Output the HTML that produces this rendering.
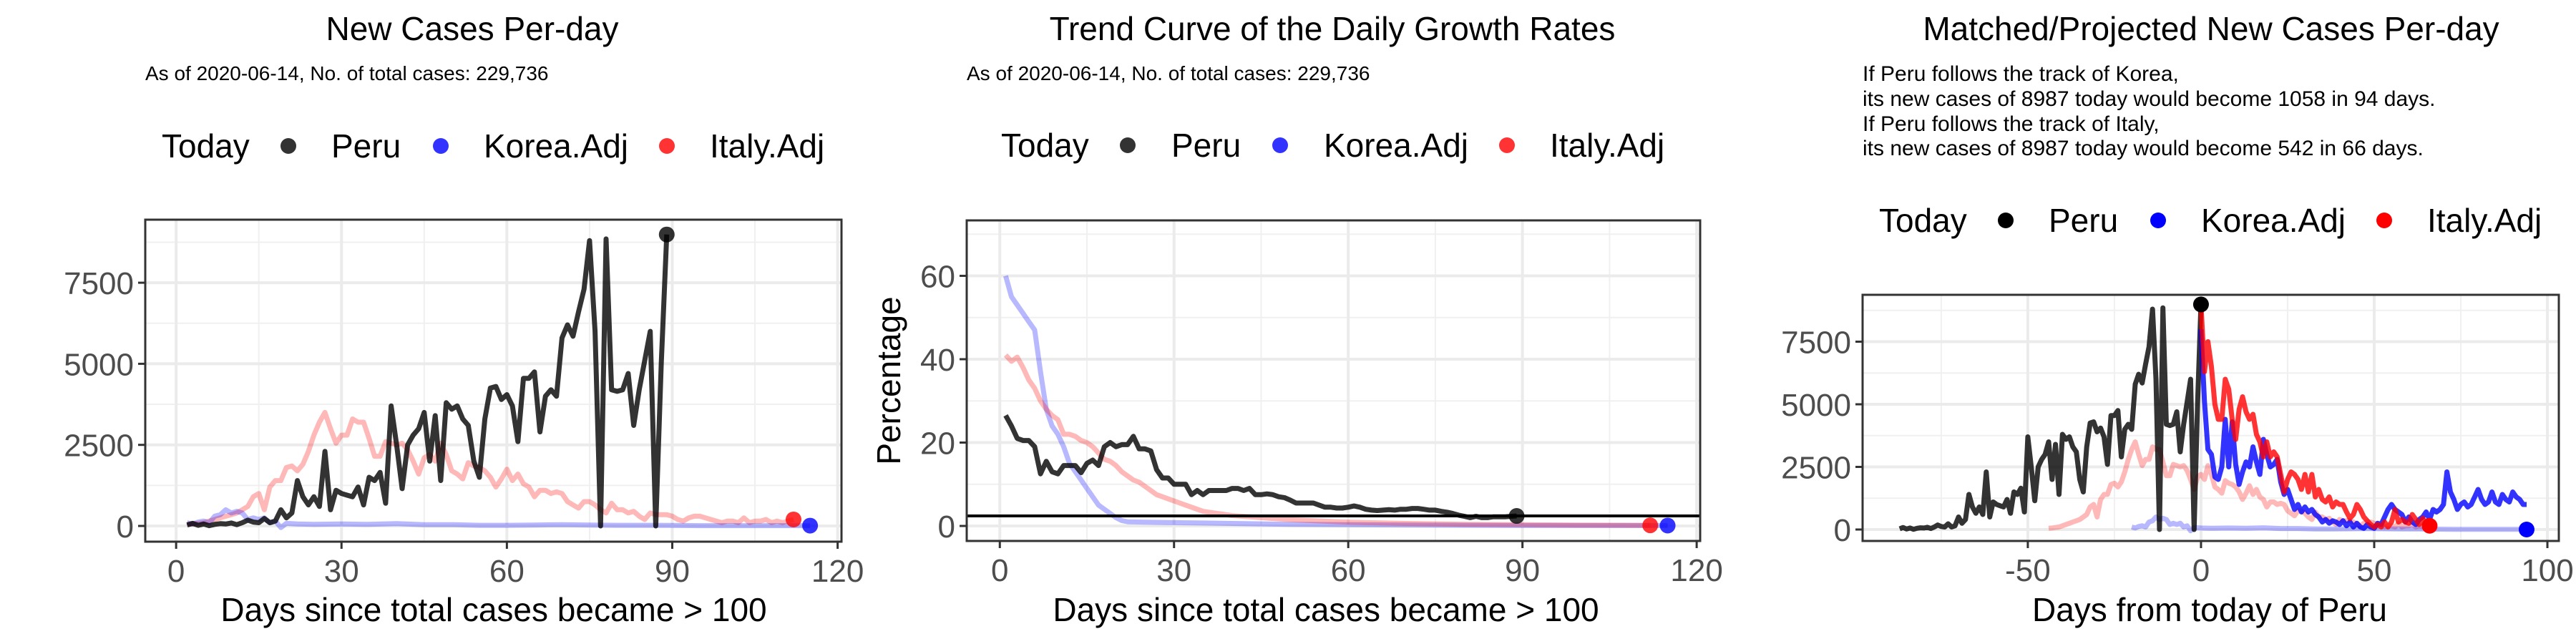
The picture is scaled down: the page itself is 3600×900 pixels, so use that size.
<!DOCTYPE html>
<html><head><meta charset="utf-8">
<style>
html,body{margin:0;padding:0;background:#fff;}
svg{display:block;font-family:"Liberation Sans",Arial,sans-serif;}
</style></head>
<body>
<svg id="chart" width="3600" height="900" viewBox="0 0 3600 900" xmlns="http://www.w3.org/2000/svg">
<rect x="0" y="0" width="3600" height="900" fill="#fff"/>
<!-- Titles -->
<text x="660" y="56" font-size="46" text-anchor="middle">New Cases Per-day</text>
<text x="203" y="112" font-size="28">As of 2020-06-14, No. of total cases: 229,736</text>
<text x="1862" y="56" font-size="46" text-anchor="middle">Trend Curve of the Daily Growth Rates</text>
<text x="1351" y="112" font-size="28">As of 2020-06-14, No. of total cases: 229,736</text>
<text x="3090" y="56" font-size="46" text-anchor="middle">Matched/Projected New Cases Per-day</text>
<g font-size="30">
<text x="2603" y="113">If Peru follows the track of Korea,</text>
<text x="2603" y="148">its new cases of 8987 today would become 1058 in 94 days.</text>
<text x="2603" y="183">If Peru follows the track of Italy,</text>
<text x="2603" y="217">its new cases of 8987 today would become 542 in 66 days.</text>
</g>
<g id="layer"></g>
</svg>
<script>
// ---------- data ----------
const peruDays = [2,3,4,5,6,7,8,9,10,11,12,13,14,15,16,17,18,19,20,21,22,23,24,25,26,27,28,29,30,31,32,33,34,35,36,37,38,39,40,41,42,43,44,45,46,47,48,49,50,51,52,53,54,55,56,57,58,59,60,61,62,63,64,65,66,67,68,69,70,71,72,73,74,75,76,77,78,79,80,81,82,83,84,85,86,87,88,89];
const peruCases = [30,80,20,60,10,50,70,60,90,40,100,180,120,100,230,100,150,500,250,400,1400,900,650,900,600,2300,500,1100,1000,950,900,1200,650,1500,1400,1650,700,3700,2500,1150,2500,2800,3000,3500,2000,3400,1400,3800,3600,3700,3300,3100,2000,1500,3300,4250,4300,3900,4050,3700,2600,4550,4550,4750,2900,4000,4200,4000,5800,6200,5850,6600,7300,8800,6000,0,8850,4200,4150,4200,4700,3100,4200,5100,6000,0,5000,8987];
const italyDays = [2,3,4,5,6,7,8,9,10,11,12,13,14,15,16,17,18,19,20,21,22,23,24,25,26,27,28,29,30,31,32,33,34,35,36,37,38,39,40,41,42,43,44,45,46,47,48,49,50,51,52,53,54,55,56,57,58,59,60,61,62,63,64,65,66,67,68,69,70,71,72,73,74,75,76,77,78,79,80,81,82,83,84,85,86,87,88,89,90,91,92,93,94,95,96,97,98,99,100,101,102,103,104,105,106,107,108,109,110,111,112];
const italyCases = [50,60,80,100,150,200,250,300,350,400,500,600,900,1000,500,1200,1400,1400,1800,1850,1700,1900,2300,2800,3200,3500,3000,2550,2800,2800,3300,3200,3200,2700,2150,2150,2600,2550,2500,2550,2350,2000,1600,2100,2200,2000,2550,2200,1700,1600,1450,1950,1850,1800,1700,1500,1200,1450,1750,1400,1600,1300,1200,900,1100,1100,1000,1050,1000,750,650,550,750,750,650,500,400,700,500,500,400,450,300,200,400,350,350,350,300,200,150,250,300,300,250,200,150,100,150,150,100,250,100,150,150,200,100,150,100,150,200];
const koreaDays = [2,3,4,5,6,7,8,9,10,11,12,13,14,15,16,17,18,19,20,22,25,30,35,40,45,50,55,60,65,70,75,80,85,90,95,100,105,110,115];
const koreaCases = [100,60,120,150,100,300,350,500,400,450,400,200,250,200,250,100,150,-50,80,60,50,60,50,70,40,40,20,20,30,40,30,20,20,15,10,10,10,10,10];
const italyEnd = {day:112, value:200};
const koreaEnd = {day:115, value:10};

const growthDaysPeru = [1].concat(peruDays.slice(0,88));
const growthPeru = [26.5,24,21,20.5,20.5,19,12.5,15.5,13,12.5,14.5,14.5,14.5,12.8,15,15.8,14.5,19,20,19,19.5,19.5,21.5,18.5,18.5,18,13.5,11.5,11.5,10,10,10,7.5,8.5,7.5,8.5,8.5,8.5,8.5,9,9,8.5,9,7.5,7.5,7.7,7.5,7,6.8,6.2,5.5,5.5,5.5,5.5,5,4.5,4.5,4.3,4.3,4.5,4.8,4.5,4,3.8,3.7,3.8,3.9,3.8,4,4,4.2,4.2,4,3.8,3.8,3.5,3.3,3,2.6,2.3,2,2.3,2,2,2.2,2.2,2.2,2.3,2.4];
const growthDaysKorea = [1,2,3,4,5,6,7,8,9,10,11,12,13,14,15,16,17,18,19,20,21,22,25,30,35,40,45,50,60,75,90,100,115];
const growthKorea = [60,55,53,51,49,47,37,28,24,22,19,15,13,11,9,7,5,4,3,2,1.3,1,0.9,0.8,0.7,0.6,0.5,0.4,0.3,0.2,0.1,0.1,0.1];
const growthDaysItaly = [1,2,3,4,5,6,7,8,9,10,11,12,13,14,15,16,17,18,19,20,21,22,23,24,25,26,27,28,29,30,31,32,33,34,35,36,37,38,40,45,50,55,60,70,80,90,100,112];
const growthItaly = [41,39.5,40.5,38,35,33,30,28,26.5,25.5,22,22,21.5,20.5,20,19,17.5,16,15.5,14.5,13,12,11,10.5,9.5,8.5,7.5,7,6.5,6,5.5,5,4.5,4,3.5,3.3,3.1,2.9,2.5,2,1.5,1.2,0.9,0.6,0.4,0.3,0.2,0.15];
const growthRef = 2.4;

const peruShift = -89, italyShift = -46, koreaShift = -22;
const projItaly = [8987,6300,7500,6500,5000,4400,4400,6000,5600,4400,3600,4800,5300,4700,4400,4600,3800,3500,2900,3500,2900,3100,2900,2200,1500,2000,2300,2200,2000,1600,2200,1500,2200,1300,1600,1200,1100,1300,900,1100,1000,1000,700,450,600,1000,800,500,350,200,100,200,100,300,100,300,800,300,400,300,250,600,400,200,450,200,150];
const projKorea = [8000,5100,3200,3000,2100,2000,2500,4400,2500,4300,2600,1800,2300,2700,2500,3300,2700,2200,3600,3000,2500,2600,2800,1900,1400,1600,1200,800,1000,700,900,700,800,600,500,300,400,250,350,300,200,350,150,300,100,250,100,50,200,100,50,250,200,500,800,1000,800,700,600,300,500,300,200,400,500,700,400,800,700,800,1000,2300,1500,1200,800,1000,1100,900,1000,1300,1600,1200,1000,1100,1500,1100,1000,1400,1200,1100,1500,1300,1200,1000,1000];

const xTicks12 = [0,30,60,90,120];
const yTicksCases = [0,2500,5000,7500];
const yTicksPct = [0,20,40,60];
const xTicks3 = [-50,0,50,100];

// ---------- helpers ----------
const NS = "http://www.w3.org/2000/svg";
const layer = document.getElementById('layer');
function mk(tag, attrs, parent){
  const e = document.createElementNS(NS, tag);
  for (const k in attrs) e.setAttribute(k, attrs[k]);
  (parent||layer).appendChild(e);
  return e;
}
function makeScale(d0,d1,r0,r1){ return v => r0 + (v-d0)/(d1-d0)*(r1-r0); }

function panel(cfg){
  const g = mk('g',{});
  
  
  const X = makeScale(cfg.xd[0],cfg.xd[1],cfg.box[0],cfg.box[2]);
  const Y = makeScale(cfg.yd[0],cfg.yd[1],cfg.box[3],cfg.box[1]);
  const [L,T,R,B] = cfg.box;
  mk('rect',{x:L,y:T,width:R-L,height:B-T,fill:'#fff'},g);
  cfg.xMinor.forEach(v=>mk('line',{x1:X(v),x2:X(v),y1:T,y2:B,stroke:'#f0f0f0','stroke-width':2},g));
  cfg.yMinor.forEach(v=>mk('line',{x1:L,x2:R,y1:Y(v),y2:Y(v),stroke:'#f0f0f0','stroke-width':2},g));
  cfg.xTicks.forEach(v=>mk('line',{x1:X(v),x2:X(v),y1:T,y2:B,stroke:'#ebebeb','stroke-width':4},g));
  cfg.yTicks.forEach(v=>mk('line',{x1:L,x2:R,y1:Y(v),y2:Y(v),stroke:'#ebebeb','stroke-width':4},g));
  const clipId = cfg.name+'-clip';
  const cp = mk('clipPath',{id:clipId},g);
  mk('rect',{x:L,y:T,width:R-L,height:B-T},cp);
  const plot = mk('g',{'clip-path':'url(#'+clipId+')'},g);
  cfg.draw(plot,X,Y);
  mk('rect',{x:L,y:T,width:R-L,height:B-T,fill:'none',stroke:'#333','stroke-width':3},g);
  cfg.xTicks.forEach(v=>{
    mk('line',{x1:X(v),x2:X(v),y1:B,y2:B+10,stroke:'#333','stroke-width':3},g);
    const t = mk('text',{x:X(v),y:B+56,'font-size':44,fill:'#4d4d4d','text-anchor':'middle'},g);
    
    
    t.textContent = v;
  });
  cfg.yTicks.forEach(v=>{
    mk('line',{x1:L-10,x2:L,y1:Y(v),y2:Y(v),stroke:'#333','stroke-width':3},g);
    const t = mk('text',{x:L-16,y:Y(v)+16,'font-size':44,fill:'#4d4d4d','text-anchor':'end'},g);
    
    
    t.textContent = v;
  });
  const xt = mk('text',{x:cfg.xTitleX,y:868,'font-size':46,'text-anchor':'middle'},g);
  
  
  xt.textContent = cfg.xTitle;
  if (cfg.yTitle){
    const yt = mk('text',{x:0,y:0,'font-size':46,'text-anchor':'middle',transform:'translate('+(cfg.yTitleX)+','+((T+B)/2)+') rotate(-90)'},g);
    
    
    yt.textContent = cfg.yTitle;
  }
  const lg = mk('g',{},g);
  
  
  const ly = cfg.legend.y, lx = cfg.legend.x;
  const lt = mk('text',{x:lx[0],y:ly+16,'font-size':46},lg); lt.textContent='Today';
  const items = [['Peru',cfg.legend.cols[0]],['Korea.Adj',cfg.legend.cols[1]],['Italy.Adj',cfg.legend.cols[2]]];
  items.forEach((it,i)=>{
    const c = mk('circle',{cx:lx[1+2*i],cy:ly,r:11,fill:it[1]},lg);
    
    
    const t = mk('text',{x:lx[2+2*i],y:ly+16,'font-size':46},lg);
    
    
    t.textContent = it[0];
  });
}
function line(parent,X,Y,xs,ys,color,w,name,shift){
  shift = shift||0;
  const d = xs.map((x,i)=>(i?'L':'M')+X(x+shift).toFixed(1)+' '+Y(ys[i]).toFixed(1)).join(' ');
  const p = mk('path',{d:d,fill:'none',stroke:color,'stroke-width':w,'stroke-linejoin':'round'},parent);
  
  
}
function dot(parent,X,Y,x,y,color,name){
  const c = mk('circle',{cx:X(x),cy:Y(y),r:11,fill:color},parent);
  
  
}
const BLK='rgba(0,0,0,0.8)', LR='rgba(255,0,0,0.28)', LB='rgba(0,0,255,0.28)', R8='rgba(255,0,0,0.8)', B8='rgba(0,0,255,0.8)';
const idx = a => a.map((_,i)=>i);

panel({name:'panel-new-cases', box:[203,307,1176,757], xd:[-5.6,120.7], yd:[-485,9444],
  xTicks:xTicks12, xMinor:[15,45,75,105], yTicks:yTicksCases, yMinor:[1250,3750,6250,8750],
  xTitle:'Days since total cases became > 100', xTitleX:690,
  legend:{y:204,x:[226,403,463,616,676,932,992],cols:[BLK,B8,R8]},
  draw:(p,X,Y)=>{
    line(p,X,Y,italyDays,italyCases,LR,7,'line-italy-adj');
    line(p,X,Y,koreaDays,koreaCases,LB,7,'line-korea-adj');
    line(p,X,Y,peruDays,peruCases,BLK,7,'line-peru');
    dot(p,X,Y,peruDays[peruDays.length-1],peruCases[peruCases.length-1],BLK,'today-point-peru');
    dot(p,X,Y,italyEnd.day,italyEnd.value,R8,'today-point-italy');
    dot(p,X,Y,koreaEnd.day,koreaEnd.value,B8,'today-point-korea');
  }});

panel({name:'panel-growth-rates', box:[1351,308,2376,756], xd:[-5.7,120.6], yd:[-3.6,73.3],
  xTicks:xTicks12, xMinor:[15,45,75,105], yTicks:yTicksPct, yMinor:[10,30,50,70],
  xTitle:'Days since total cases became > 100', xTitleX:1853, yTitle:'Percentage', yTitleX:1258,
  legend:{y:203,x:[1399,1576,1637,1789,1850,2106,2166],cols:[BLK,B8,R8]},
  draw:(p,X,Y)=>{
    line(p,X,Y,growthDaysKorea,growthKorea,LB,7,'line-korea-adj');
    line(p,X,Y,growthDaysItaly,growthItaly,LR,7,'line-italy-adj');
    const r = mk('line',{x1:1351,x2:2376,y1:Y(growthRef),y2:Y(growthRef),stroke:'#000','stroke-width':4},p);
    
    
    line(p,X,Y,growthDaysPeru,growthPeru,BLK,7,'line-peru');
    dot(p,X,Y,growthDaysPeru[growthDaysPeru.length-1],growthPeru[growthPeru.length-1],BLK,'today-point-peru');
    dot(p,X,Y,112,0.15,R8,'today-point-italy');
    dot(p,X,Y,115,0.1,B8,'today-point-korea');
  }});

panel({name:'panel-projected', box:[2603,412,3576,756], xd:[-97.7,103.3], yd:[-457,9371],
  xTicks:xTicks3, xMinor:[-75,-25,25,75], yTicks:yTicksCases, yMinor:[1250,3750,6250,8750],
  xTitle:'Days from today of Peru', xTitleX:3088,
  legend:{y:308,x:[2626,2803,2863,3016,3076,3332,3392],cols:['#000','#0000ff','#ff0000']},
  draw:(p,X,Y)=>{
    line(p,X,Y,italyDays,italyCases,LR,7,'line-italy-shifted',italyShift);
    line(p,X,Y,koreaDays,koreaCases,LB,7,'line-korea-shifted',koreaShift);
    line(p,X,Y,peruDays,peruCases,BLK,7,'line-peru',peruShift);
    line(p,X,Y,idx(projKorea),projKorea,B8,7,'line-korea-projected');
    line(p,X,Y,idx(projItaly),projItaly,R8,7,'line-italy-projected');
    dot(p,X,Y,0,peruCases[peruCases.length-1],'#000','today-point-peru');
    dot(p,X,Y,projItaly.length-1,projItaly[projItaly.length-1],'#ff0000','end-point-italy');
    dot(p,X,Y,projKorea.length-1,0,'#0000ff','end-point-korea');
  }});
</script>
</body></html>
